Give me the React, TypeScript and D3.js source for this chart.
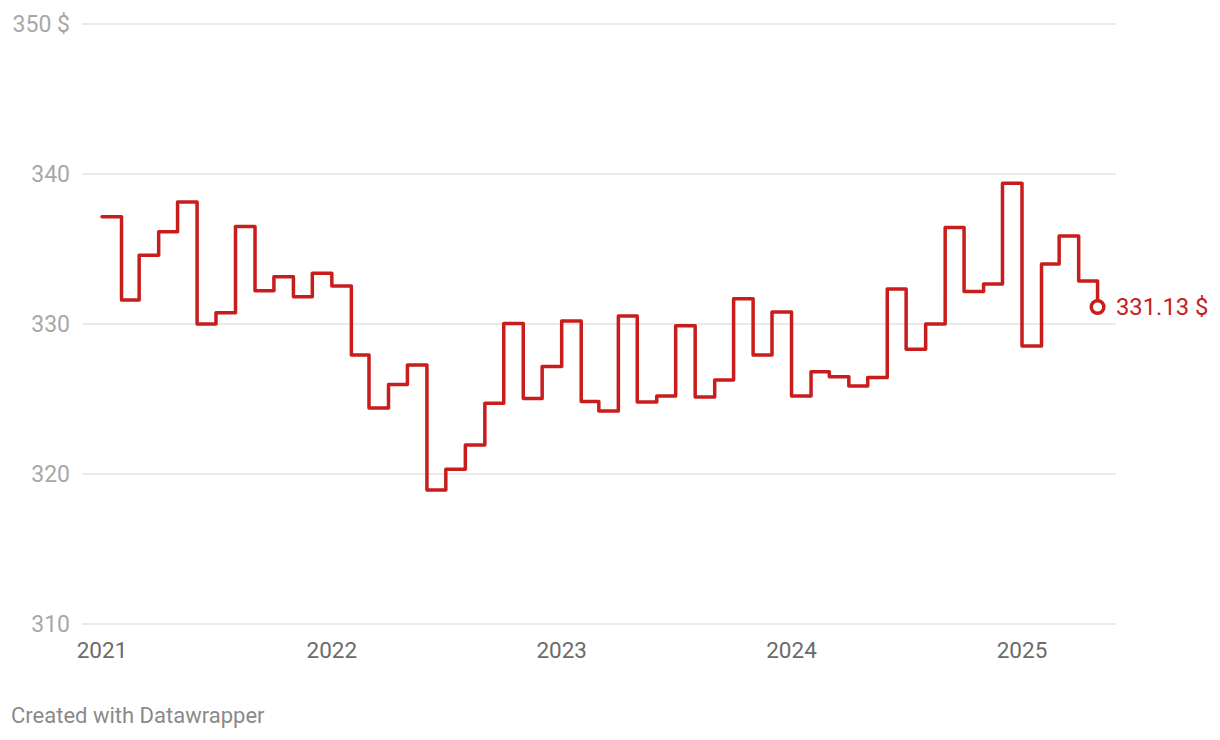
import React from "react";
import * as d3 from "d3";

const months: string[] = [
  "2021-01","2021-02","2021-03","2021-04","2021-05","2021-06","2021-07","2021-08","2021-09","2021-10","2021-11","2021-12",
  "2022-01","2022-02","2022-03","2022-04","2022-05","2022-06","2022-07","2022-08","2022-09","2022-10","2022-11","2022-12",
  "2023-01","2023-02","2023-03","2023-04","2023-05","2023-06","2023-07","2023-08","2023-09","2023-10","2023-11","2023-12",
  "2024-01","2024-02","2024-03","2024-04","2024-05","2024-06","2024-07","2024-08","2024-09","2024-10","2024-11","2024-12",
  "2025-01","2025-02","2025-03","2025-04","2025-05",
];

const prices: number[] = [
  337.15, 331.6, 334.58, 336.15, 338.13, 330.0, 330.75, 336.5, 332.22, 333.15, 331.82, 333.38,
  332.53, 327.93, 324.4, 325.96, 327.27, 318.93, 320.31, 321.93, 324.71, 330.04, 325.04, 327.16,
  330.2, 324.84, 324.2, 330.53, 324.8, 325.2, 329.89, 325.13, 326.27, 331.69, 327.93, 330.8,
  325.2, 326.82, 326.49, 325.87, 326.44, 332.33, 328.31, 330.0, 336.44, 332.16, 332.67, 339.38,
  328.53, 334.0, 335.87, 332.87, 331.13,
];

const yTicks: number[] = [310, 320, 330, 340, 350];
const xTickYears: number[] = [2021, 2022, 2023, 2024, 2025];
const lastLabel = "331.13 $";
const footer = "Created with Datawrapper";

const RED = "#c71e1d";
const FONT = "Roboto, 'Noto Sans', sans-serif";

export default function App() {
  const parse = d3.timeParse("%Y-%m");
  const data = months.map((m, i) => ({ date: parse(m) as Date, value: prices[i] }));

  const x = d3
    .scaleTime()
    .domain([new Date(2021, 0, 1), new Date(2025, 0, 1)])
    .range([102, 1022]);
  const y = d3.scaleLinear().domain([310, 350]).range([624, 24]);

  const line = d3
    .line<{ date: Date; value: number }>()
    .x((d) => x(d.date))
    .y((d) => y(d.value))
    .curve(d3.curveStepAfter);

  const last = data[data.length - 1];
  const gridX0 = 82;
  const gridX1 = 1116;

  return (
    <svg
      width={1220}
      height={740}
      style={{ position: "absolute", left: 0, top: 0, background: "#fff" }}
      fontFamily={FONT}
    >
      <rect width={1220} height={740} fill="#fff" />
      {yTicks.map((t) => (
        <g key={t}>
          <line x1={gridX0} x2={gridX1} y1={y(t)} y2={y(t)} stroke="#e3e3e3" strokeWidth={1.5} />
          <text
            x={70}
            y={y(t)}
            dy="0.35em"
            textAnchor="end"
            fontSize={23}
            fill="#a8a8a8"
          >
            {t === 350 ? `${t} $` : t}
          </text>
        </g>
      ))}
      {xTickYears.map((yr) => (
        <text
          key={yr}
          x={x(new Date(yr, 0, 1))}
          y={658}
          textAnchor="middle"
          fontSize={22.5}
          fill="#6b6b6b"
        >
          {yr}
        </text>
      ))}
      <path
        d={line(data) || ""}
        fill="none"
        stroke={RED}
        strokeWidth={3.5}
        strokeLinejoin="round"
        strokeLinecap="round"
      />
      <circle
        cx={x(last.date)}
        cy={y(last.value)}
        r={6.3}
        fill="#fff"
        stroke={RED}
        strokeWidth={3.5}
      />
      <text
        x={1116}
        y={y(last.value)}
        dy="0.35em"
        fontSize={23.8}
        fill={RED}
      >
        {lastLabel}
      </text>
      <text x={11} y={723} fontSize={22} fill="#8a8a8a">
        {footer}
      </text>
    </svg>
  );
}
